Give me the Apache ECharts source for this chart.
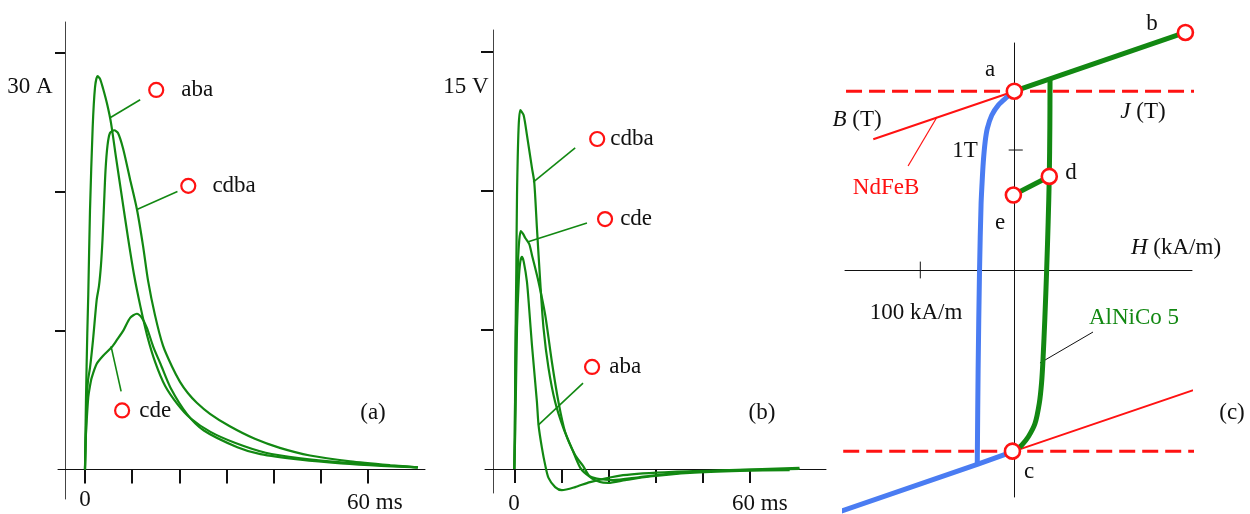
<!DOCTYPE html>
<html>
<head>
<meta charset="utf-8">
<script src="https://cdn.jsdelivr.net/npm/echarts@6.0.0/dist/echarts.min.js"></script>
<style>
  html, body { margin: 0; padding: 0; background: #fff; }
  #main { width: 1250px; height: 514px; }
</style>
</head>
<body>
<div id="main"></div>
<script>
// ---- (a) current i(t), ms / A ----
const curA_aba = [[0,0],[0.21,5.0],[0.49,9.8],[0.7,12.6],[1.06,18.6],[1.63,24.6],[2.13,27.5],[2.66,28.3],[3.19,28.1],[3.83,27.4],[4.68,26.3],[5.53,24.9],[6.6,22.4],[7.87,19.5],[9.15,16.6],[10.4,14.0],[11.7,11.8],[13.2,9.6],[14.9,7.7],[17.0,6.0],[19.6,4.7],[22.3,3.7],[26.6,2.7],[31.9,1.9],[38.3,1.2],[45.7,0.8],[54.3,0.5],[62.8,0.3],[70.6,0.15]]
const curA_cdba = [[0,0],[0.21,2.8],[0.36,5.0],[0.64,6.4],[1.06,7.3],[1.7,9.3],[2.48,12.2],[2.97,13.2],[3.39,14.7],[3.71,16.5],[4.03,19.0],[4.35,21.5],[4.77,23.3],[5.3,24.2],[6.21,24.4],[7.0,24.2],[8.06,23.1],[9.54,20.9],[11.02,18.7],[12.3,16.1],[13.36,13.6],[14.84,11.1],[16.54,8.9],[18.44,7.4],[20.14,6.3],[21.8,5.5],[23.7,4.8],[26.5,4.0],[30.7,3.1],[36.0,2.2],[41.3,1.55],[47.7,1.0],[56.2,0.58],[64.7,0.3],[70.4,0.15]]
const curA_cde = [[0,0],[0.15,2.1],[0.36,3.5],[0.7,5.2],[1.06,6.0],[1.43,6.6],[2.49,7.6],[3.9,8.2],[5.68,8.8],[6.74,9.3],[8.15,10.0],[9.57,10.9],[11.0,11.2],[12.06,10.9],[13.1,10.2],[14.5,8.8],[16.0,7.6],[18.1,5.9],[21.6,4.0],[25.2,2.8],[32.3,1.6],[37.2,1.1],[45.7,0.7],[54.3,0.43],[62.8,0.25],[70.6,0.14]]
const markA = [{ name: 'aba', value: [15.1, 27.3] }, { name: 'cdba', value: [21.9, 20.4] }, { name: 'cde', value: [7.87, 4.24] }]
const leadA = [[[11.7, 26.6], [5.32, 25.3]], [[19.6, 20.0], [11.02, 18.7]], [[7.66, 5.61], [5.53, 8.85]]]
const xTicksA = [0, 10, 20, 30, 40, 50, 60]
const yTicksA = [10, 20, 30]

// ---- (b) voltage u(t), ms / V ----
const curB_cdba = [[0,0],[0.13,1.04],[0.25,3.85],[0.51,7.16],[0.69,9.86],[1.09,12.27],[1.52,12.91],[2.36,12.73],[3.22,12.01],[4.49,10.83],[5.08,10.32],[5.76,8.67],[6.6,6.73],[7.44,5.07],[8.71,3.63],[10.4,2.41],[12.5,1.47],[14.6,0.76],[16.8,0.04],[19.0,-0.25],[21.0,-0.34],[25.1,-0.40],[32.0,-0.29],[42.1,-0.14],[54.8,-0.04],[72.6,0.04]]
const curB_cde = [[0,0],[0.13,1.4],[0.43,5.07],[0.94,7.45],[1.27,8.24],[1.65,8.56],[2.28,8.45],[2.79,8.31],[3.81,8.09],[4.49,7.7],[6.17,6.73],[7.87,5.54],[9.57,3.85],[11.24,2.41],[12.94,1.33],[15.48,0.5],[17.5,0.11],[19.3,-0.29],[21.8,-0.47],[23.9,-0.5],[28.2,-0.4],[34.5,-0.27],[44.7,-0.14],[57.4,-0.07],[70.1,-0.04]]
const curB_aba = [[0,0],[0.25,1.4],[0.69,5.07],[1.14,6.8],[1.52,7.45],[1.95,7.63],[2.41,7.45],[3.22,6.73],[3.81,5.72],[4.49,4.46],[5.76,2.41],[6.17,1.58],[7.03,0.76],[7.87,0.14],[8.71,-0.32],[10.4,-0.65],[12.1,-0.76],[15.5,-0.65],[19.3,-0.47],[27.7,-0.22],[40.4,-0.1],[57.4,-0.04],[72.6,0]]
const markB = [{ name: 'cdba', value: [21.1, 11.87] }, { name: 'cde', value: [23.1, 8.99] }, { name: 'aba', value: [19.8, 3.67] }]
const leadB = [[[15.5, 11.55], [4.82, 10.32]], [[18.5, 8.85], [3.55, 8.17]], [[17.5, 3.09], [6.09, 1.58]]]
const xTicksB = [0, 12, 24, 36, 48, 60]
const yTicksB = [5, 10, 15]

// ---- (c) J(H), kA/m / T ----
const ndfebB_top = [[-150, 1.09], [0, 1.49], [200, 2.03]]
const ndfebB_low = [[-195, -2.04], [0, -1.51], [206, -0.96]]
const ndfebJ = [[0,1.49],[-8,1.44],[-17,1.375],[-24,1.29],[-28.7,1.18],[-31,1.07],[-33,0.9],[-34.4,0.71],[-35.4,0.54],[-37,0],[-38.5,-0.83],[-39.4,-1.62]]
const ndfebJ_low = [[-195, -2.04], [-39.4, -1.62], [0, -1.51]]
const alnico = [[0,-1.51],[7.8,-1.46],[14.9,-1.39],[22,-1.28],[26.6,-1.11],[29,-0.94],[30.5,-0.75],[32.5,-0.4],[34.4,0],[36,0.4],[37.2,0.78],[37.8,1.2],[38,1.595]]
const alnico_ab = [[0, 1.49], [182, 1.98]]
const alnico_ed = [[-1, 0.625], [37.2, 0.78]]
const satLevels = [[[-179, 1.49], [233, 1.49]], [[-182, -1.51], [204, -1.51]]]
const pointsC = [{ name: 'a', value: [0, 1.49] }, { name: 'b', value: [182, 1.98] }, { name: 'c', value: [-2, -1.51] }, { name: 'd', value: [37.2, 0.78] }, { name: 'e', value: [-1, 0.625] }]
const leadAlnico = [[83.7, -0.517], [27.3, -0.775]]
const leadNdfeb = [[-113, 0.867], [-82.2, 1.275]]
const hTicksC = [-100]
const jTicksC = [1]

const FONT = '"Liberation Serif", "Times New Roman", serif'
const INK = '#111'
const GREEN = '#128812'
const RED = '#ff1212'
const BLUE = '#4a7cf2'

const chart = echarts.init(document.getElementById('main'))
const series = []

function addLine(idx, data, color, width, extra) {
    series.push(Object.assign({
        type: 'line', xAxisIndex: idx, yAxisIndex: idx, data: data,
        symbol: 'none', showSymbol: false, silent: true,
        lineStyle: { color: color, width: width }
    }, extra || {}))
}

function addMarks(idx, marks, gaps, size, border) {
    series.push({
        type: 'scatter', xAxisIndex: idx, yAxisIndex: idx, z: 5, clip: false, silent: true,
        symbol: 'circle', symbolSize: size,
        itemStyle: { color: '#fff', borderColor: RED, borderWidth: border, opacity: 1 },
        data: marks.map((m, i) => ({
            name: m.name, value: m.value,
            label: gaps ? { show: true, position: 'right', distance: gaps[i] } : { show: false }
        })),
        label: { formatter: '{b}', fontSize: 23, fontFamily: FONT, color: INK }
    })
}

// 平滑一点就行，monotone 会出台阶
const soft = { smooth: 0.25 }

// (a)
addLine(0, curA_aba, GREEN, 2.2, soft)
addLine(0, curA_cdba, GREEN, 2.2, soft)
addLine(0, curA_cde, GREEN, 2.2, soft)
leadA.forEach(l => addLine(0, l, GREEN, 1.6))
addMarks(0, markA, [17, 16, 9], 14, 2.2)

// (b)
addLine(1, curB_cdba, GREEN, 2.2, soft)
addLine(1, curB_cde, GREEN, 2.2, soft)
addLine(1, curB_aba, GREEN, 2.2, soft)
leadB.forEach(l => addLine(1, l, GREEN, 1.6))
addMarks(1, markB, [5, 7, 9], 14, 2.2)

// (c) crossing ticks on the axes
hTicksC.forEach(h => addLine(2, [[h, -0.07], [h, 0.07]], INK, 1))
jTicksC.forEach(j => addLine(2, [[-6, j], [9, j]], INK, 1))
// saturation levels + B lines
satLevels.forEach(l => addLine(2, l, RED, 3, { clip: false, lineStyle: { color: RED, width: 3, type: [16, 7] } }))
addLine(2, ndfebB_top, RED, 2, { clip: false })
addLine(2, ndfebB_low, RED, 2, { clip: false })
addLine(2, leadNdfeb, RED, 1.2)
addLine(2, leadAlnico, INK, 1)
addLine(2, ndfebJ, BLUE, 5, { smooth: 0.3, clip: false })
addLine(2, ndfebJ_low, BLUE, 5, { clip: false })
addLine(2, alnico, GREEN, 5, { smooth: 0.3, clip: false })
addLine(2, alnico_ab, GREEN, 5, { clip: false })
addLine(2, alnico_ed, GREEN, 5, { clip: false })
addMarks(2, pointsC, null, 15, 2.6)

function txt(x, y, text, extra) {
    return {
        type: 'text', x: x, y: y, z: 10,
        style: Object.assign({ text: text, fontSize: 23, fontFamily: FONT, fill: INK, align: 'center', verticalAlign: 'middle' }, extra || {})
    }
}
const it = { i: { fontStyle: 'italic', fontSize: 23, fontFamily: FONT, fill: INK } }

const axisBase = {
    type: 'value', splitLine: { show: false },
    axisLine: { lineStyle: { color: INK, width: 1 } }
}

const option = {
    animation: false,
    backgroundColor: '#fff',
    grid: [
        { left: 58, top: 22, width: 367, height: 477, containLabel: false },
        { left: 485, top: 30, width: 341, height: 463, containLabel: false },
        { left: 845, top: 43, width: 347, height: 454, containLabel: false }
    ],
    xAxis: [
        Object.assign({}, axisBase, {
            gridIndex: 0, min: -5.72, max: 72.08,
            axisLine: { onZero: true, lineStyle: { color: INK, width: 1 } },
            axisTick: { customValues: xTicksA, length: 14, lineStyle: { color: INK, width: 2 } },
            axisLabel: { show: false }
        }),
        Object.assign({}, axisBase, {
            gridIndex: 1, min: -7.46, max: 79.35,
            axisLine: { onZero: true, lineStyle: { color: INK, width: 1 } },
            axisTick: { customValues: xTicksB, length: 14, lineStyle: { color: INK, width: 2 } },
            axisLabel: { show: false }
        }),
        Object.assign({}, axisBase, {
            gridIndex: 2, min: -180.1, max: 189.0,
            axisLine: { onZero: true, lineStyle: { color: INK, width: 1 } },
            axisTick: { show: false }, axisLabel: { show: false }
        })
    ],
    yAxis: [
        Object.assign({}, axisBase, {
            gridIndex: 0, min: -2.13, max: 32.19, offset: -7,
            axisLine: { onZero: false, lineStyle: { color: '#444', width: 1 } },
            axisTick: { customValues: yTicksA, length: 10, lineStyle: { color: INK, width: 2 } },
            axisLabel: { show: false }
        }),
        Object.assign({}, axisBase, {
            gridIndex: 1, min: -0.863, max: 15.79, offset: -8,
            axisLine: { onZero: false, lineStyle: { color: '#444', width: 1 } },
            axisTick: { customValues: yTicksB, length: 12, lineStyle: { color: INK, width: 2 } },
            axisLabel: { show: false }
        }),
        Object.assign({}, axisBase, {
            gridIndex: 2, min: -1.892, max: 1.892,
            axisLine: { onZero: true, lineStyle: { color: INK, width: 1 } },
            axisTick: { show: false }, axisLabel: { show: false }
        })
    ],
    graphic: [
        // tick labels of the time axes
        txt(85, 500, '0'),
        txt(347, 503, '60 ms', { align: 'left' }),
        txt(514, 504, '0'),
        txt(732, 504, '60 ms', { align: 'left' }),
        txt(30, 87, '30 A'),
        txt(373, 413, '(a)'),
        txt(466, 87, '15 V'),
        txt(762, 413, '(b)'),
        txt(990, 70, 'a'),
        txt(1152, 24, 'b'),
        txt(1029, 472, 'c'),
        txt(1071, 173, 'd'),
        txt(1000, 223, 'e'),
        txt(857, 120, '{i|B} (T)', { rich: it }),
        txt(1143, 112, '{i|J} (T)', { rich: it }),
        txt(965, 151, '1T'),
        txt(886, 188, 'NdFeB', { fill: RED }),
        txt(1176, 248, '{i|H} (kA/m)', { rich: it }),
        txt(916, 313, '100 kA/m'),
        txt(1134, 318, 'AlNiCo 5', { fill: GREEN }),
        txt(1232, 413, '(c)')
    ],
    series: series
}

chart.setOption(option)
</script>
</body>
</html>
